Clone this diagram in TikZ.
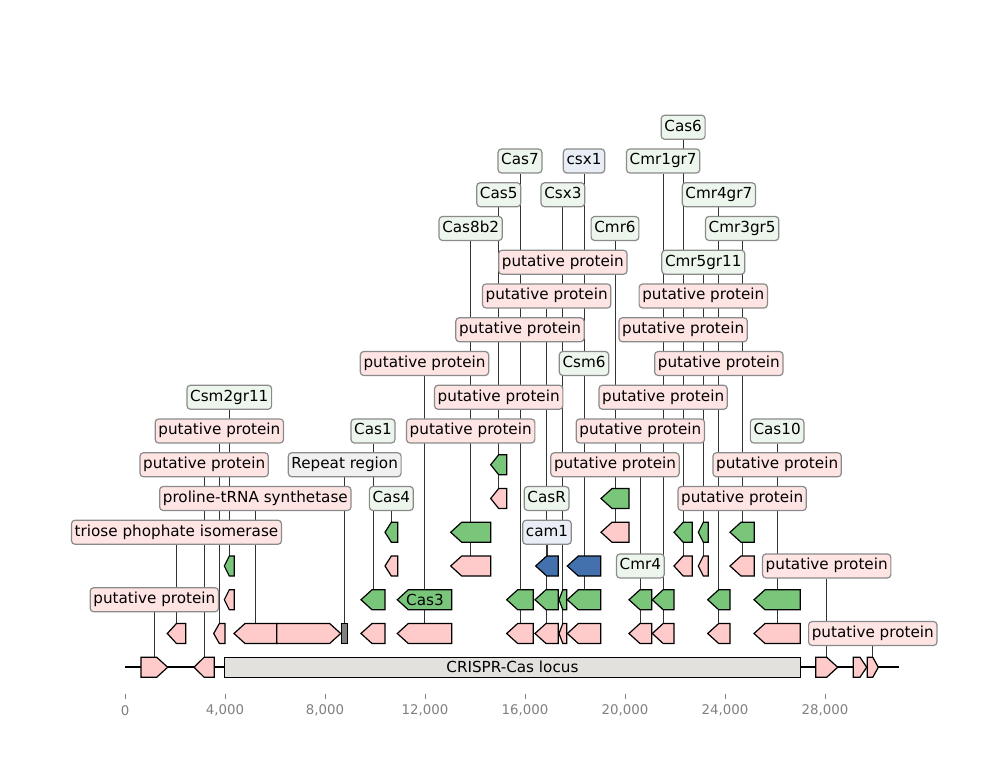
\documentclass[tikz,border=0pt]{standalone}
\usepackage{fontspec}
\setmainfont{DejaVu Sans}
\usetikzlibrary{calc}
\pgfdeclarelayer{bg}
\pgfsetlayers{bg,main}

\definecolor{pinkF}{HTML}{FFCACA}
\definecolor{greenF}{HTML}{79C67B}
\definecolor{blueF}{HTML}{4371AE}
\definecolor{grayF}{HTML}{808080}
\definecolor{locusF}{HTML}{E2E1DD}
\definecolor{pinkL}{HTML}{FFE4E4}
\definecolor{greenL}{HTML}{EDF6ED}
\definecolor{blueL}{HTML}{E9EEF6}
\definecolor{grayL}{HTML}{F0F0F0}
\definecolor{boxEdge}{HTML}{8A8A8A}
\definecolor{tickC}{HTML}{808080}

\newcommand\labfont{\fontsize{11.4}{13.7}\selectfont}

% row centres (y grows downwards)
\def\yz{667.25}
\def\ya{633.5}
\def\yb{599.75}
\def\yc{566}
\def\yd{532.25}
\def\ye{498.5}
\def\yf{464.75}

% gene pointing left: x0, x1, row, fill, name of its top point
\newcommand\revgene[5]{%
  \pgfmathsetmacro\hdl{min(11,(#2-#1)/2)}%
  \filldraw[gene,fill=#4] (#1,#3) -- ({#1+\hdl},{#3-10}) -- (#2,{#3-10})
     -- (#2,{#3+10}) -- ({#1+\hdl},{#3+10}) -- cycle;%
  \coordinate (#5) at ({(#1+#2)/2},{#3-10});}
% gene pointing right
\newcommand\fwdgene[5]{%
  \pgfmathsetmacro\hdl{min(11,(#2-#1)/2)}%
  \filldraw[gene,fill=#4] (#1,{#3-10}) -- ({#2-\hdl},{#3-10}) -- (#2,#3)
     -- ({#2-\hdl},{#3+10}) -- (#1,{#3+10}) -- cycle;%
  \coordinate (#5) at ({(#1+#2)/2},{#3-10});}
% label: name, level, fill, text, target point
\newcommand\genelabel[5]{%
  \pgfmathsetmacro\ly{667.25-33.75*#2}%
  \node[lab,fill=#3] (#1) at (#5 |- 0,\ly) {#4};%
  \begin{pgfonlayer}{bg}\draw[labline] (#1) -- (#5);\end{pgfonlayer}}

\begin{document}
\begin{tikzpicture}[x=0.75pt,y=-0.75pt,
  gene/.style={draw=black,line width=0.9pt,line join=miter},
  lab/.style={draw=boxEdge,line width=0.9pt,rounded corners=2.6pt,inner xsep=2.4pt,
    inner ysep=0pt,minimum height=18pt,text height=8.6pt,text depth=2.6pt,font=\labfont},
  labline/.style={draw=black!80,line width=0.6pt},
  backbone/.style={draw=black,line width=1.5pt}]
\useasboundingbox (0,0) rectangle (1000,780);

% sequence backbone
\coordinate (seqL) at (125,\yz);
\coordinate (seqR) at (899,\yz);
\draw[backbone] (seqL) -- (seqR);

% main track
\fwdgene{141}{167.7}{\yz}{pinkF}{m1}
\revgene{194}{214.3}{\yz}{pinkF}{m2}
\node[gene,fill=locusF,minimum width=431.85pt,minimum height=15pt,inner sep=0pt,
  font=\labfont] (locus) at (512.4,\yz) {CRISPR-Cas locus};
\fwdgene{815.7}{837.7}{\yz}{pinkF}{m3}
\fwdgene{853.3}{866.7}{\yz}{pinkF}{m4}
\fwdgene{867.3}{878.3}{\yz}{pinkF}{m5}

% level 1
\revgene{167.3}{185.7}{\ya}{pinkF}{a1}
\revgene{213.7}{225}{\ya}{pinkF}{a2}
\revgene{234}{276.7}{\ya}{pinkF}{a3}
\fwdgene{276.7}{340.7}{\ya}{pinkF}{a4}
\filldraw[gene,fill=grayF] (341.7,{\ya-10}) rectangle (347.7,{\ya+10});
\coordinate (a5) at (344.7,{\ya-10});
\revgene{361}{385}{\ya}{pinkF}{a6}
\revgene{397.3}{451.7}{\ya}{pinkF}{a7}
\revgene{506.7}{533.3}{\ya}{pinkF}{a8}
\revgene{535}{558.3}{\ya}{pinkF}{a9}
\revgene{559}{566.7}{\ya}{pinkF}{a10}
\revgene{567.3}{600.7}{\ya}{pinkF}{a11}
\revgene{629}{651.7}{\ya}{pinkF}{a12}
\revgene{652.3}{674}{\ya}{pinkF}{a13}
\revgene{707.7}{730}{\ya}{pinkF}{a14}
\revgene{754}{800.3}{\ya}{pinkF}{a15}

% level 2
\revgene{224.3}{234.3}{\yb}{pinkF}{b1}
\revgene{361}{385}{\yb}{greenF}{b2}
\revgene{397.3}{451.7}{\yb}{greenF}{b3}
\node[font=\labfont,inner sep=0pt] (cas3) at (425,\yb) {Cas3};
\revgene{506.7}{533.3}{\yb}{greenF}{b4}
\revgene{535}{558.3}{\yb}{greenF}{b5}
\revgene{559}{566.7}{\yb}{greenF}{b6}
\revgene{567.3}{600.7}{\yb}{greenF}{b7}
\revgene{629}{651.7}{\yb}{greenF}{b8}
\revgene{652.3}{674}{\yb}{greenF}{b9}
\revgene{707.7}{730}{\yb}{greenF}{b10}
\revgene{754}{800.3}{\yb}{greenF}{b11}

% level 3
\revgene{224.3}{234.3}{\yc}{greenF}{c1}
\revgene{385}{397.7}{\yc}{pinkF}{c2}
\revgene{450.7}{490.7}{\yc}{pinkF}{c3}
\revgene{535.7}{558.3}{\yc}{blueF}{c4}
\revgene{567.3}{600.7}{\yc}{blueF}{c5}
\revgene{674}{692.3}{\yc}{pinkF}{c6}
\revgene{698.3}{708.3}{\yc}{pinkF}{c7}
\revgene{730}{754.3}{\yc}{pinkF}{c8}

% level 4
\revgene{385}{397.7}{\yd}{greenF}{d1}
\revgene{450.7}{490.7}{\yd}{greenF}{d2}
\revgene{601}{629}{\yd}{pinkF}{d3}
\revgene{674}{692.3}{\yd}{greenF}{d4}
\revgene{698.3}{708.3}{\yd}{greenF}{d5}
\revgene{730}{754.3}{\yd}{greenF}{d6}

% levels 5 and 6
\revgene{490.7}{506.7}{\ye}{pinkF}{e1}
\revgene{601}{629}{\ye}{greenF}{e2}
\revgene{490.7}{506.7}{\yf}{greenF}{f1}

% labels
\genelabel{Lcas6}{16}{greenL}{Cas6}{d4}
\genelabel{Lcas7}{15}{greenL}{Cas7}{b4}
\genelabel{Lcsx1}{15}{blueL}{csx1}{c5}
\genelabel{Lcmr1}{15}{greenL}{Cmr1gr7}{b9}
\genelabel{Lcas5}{14}{greenL}{Cas5}{f1}
\genelabel{Lcsx3}{14}{greenL}{Csx3}{b6}
\genelabel{Lcmr4g}{14}{greenL}{Cmr4gr7}{b10}
\genelabel{Lcas8}{13}{greenL}{Cas8b2}{d2}
\genelabel{Lcmr6}{13}{greenL}{Cmr6}{e2}
\genelabel{Lcmr3}{13}{greenL}{Cmr3gr5}{d6}
\genelabel{Lp1}{12}{pinkL}{putative protein}{a10}
\genelabel{Lcmr5}{12}{greenL}{Cmr5gr11}{d5}
\genelabel{Lp2}{11}{pinkL}{putative protein}{a9}
\genelabel{Lp3}{11}{pinkL}{putative protein}{c7}
\genelabel{Lp4}{10}{pinkL}{putative protein}{a8}
\genelabel{Lp5}{10}{pinkL}{putative protein}{c6}
\genelabel{Lp6}{9}{pinkL}{putative protein}{a7}
\genelabel{Lcsm6}{9}{greenL}{Csm6}{b7}
\genelabel{Lp7}{9}{pinkL}{putative protein}{a14}
\genelabel{Lcsm2}{8}{greenL}{Csm2gr11}{c1}
\genelabel{Lp8}{8}{pinkL}{putative protein}{e1}
\genelabel{Lp9}{8}{pinkL}{putative protein}{a13}
\genelabel{Lp10}{7}{pinkL}{putative protein}{a2}
\genelabel{Lcas1}{7}{greenL}{Cas1}{b2}
\genelabel{Lp11}{7}{pinkL}{putative protein}{c3}
\genelabel{Lp12}{7}{pinkL}{putative protein}{a12}
\genelabel{Lcas10}{7}{greenL}{Cas10}{b11}
\genelabel{Lp13}{6}{pinkL}{putative protein}{m2}
\genelabel{Lrep}{6}{grayL}{Repeat region}{a5}
\genelabel{Lp14}{6}{pinkL}{putative protein}{d3}
\genelabel{Lp15}{6}{pinkL}{putative protein}{a15}
\genelabel{Lpro}{5}{pinkL}{proline-tRNA synthetase}{a3}
\genelabel{Lcas4}{5}{greenL}{Cas4}{d1}
\genelabel{Lcasr}{5}{greenL}{CasR}{b5}
\genelabel{Lp16}{5}{pinkL}{putative protein}{c8}
\genelabel{Ltpi}{4}{pinkL}{triose phophate isomerase}{a1}
\genelabel{Lcam1}{4}{blueL}{cam1}{c4}
\genelabel{Lcmr4}{3}{greenL}{Cmr4}{b8}
\genelabel{Lp17}{3}{pinkL}{putative protein}{m3}
\genelabel{Lp18}{2}{pinkL}{putative protein}{m1}
\genelabel{Lp19}{1}{pinkL}{putative protein}{m5}

% position axis
\foreach \i/\t in {0/0,1/{4,000},2/{8,000},3/{12,000},4/{16,000},5/{20,000},6/{24,000},7/{28,000}}{
  \draw[tickC,line width=0.6pt] ({125+100*\i},694) -- ({125+100*\i},699);
  \node[text=tickC,font=\fontsize{10}{12}\selectfont,inner sep=0pt] (tk\i) at ({125+100*\i},710.5) {\t};
}
\end{tikzpicture}
\end{document}
